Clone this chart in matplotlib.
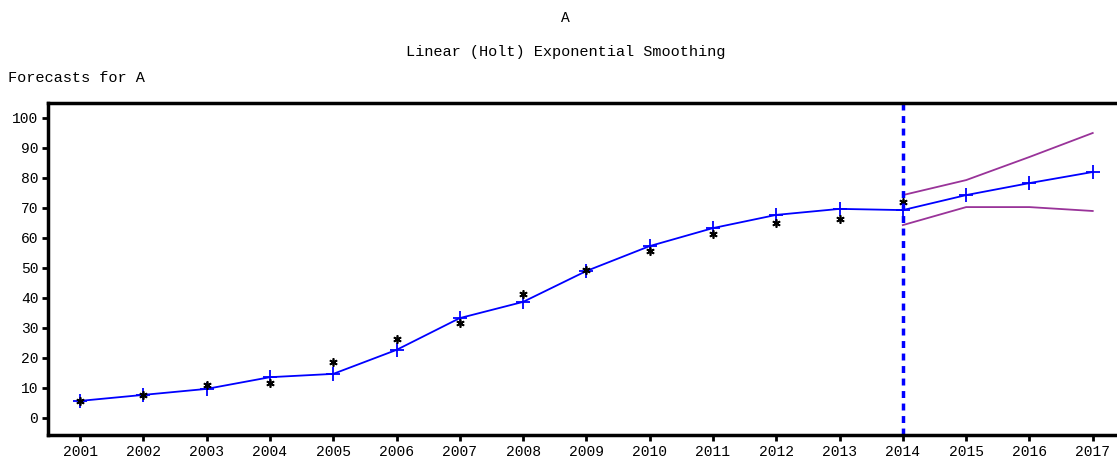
import numpy as np
import matplotlib.pyplot as plt

years = list(range(2001, 2018))
hist_years = list(range(2001, 2015))
actual = [5.7, 7.7, 11.0, 11.7, 18.7, 26.3, 31.7, 41.3, 49.3, 55.7, 61.3, 65.0, 66.3, 72.0]
fitted = [5.7, 7.7, 9.7, 13.6, 14.7, 22.7, 33.3, 38.7, 49.0, 57.3, 63.3, 67.7, 69.7, 69.3, 74.3, 78.3, 82.0]
band_years = [2014, 2015, 2016, 2017]
upper = [74.3, 79.3, 87.0, 95.0]
lower = [64.3, 70.3, 70.3, 69.0]
y_ticks = [0, 10, 20, 30, 40, 50, 60, 70, 80, 90, 100]

plt.rcParams['font.family'] = ['Liberation Mono', 'DejaVu Sans Mono']

fig = plt.figure(figsize=(11.17, 4.61), dpi=100)
ax = fig.add_axes([0.043, 0.0564, 0.967, 0.7202])

ax.plot(band_years, upper, color="#993399", lw=1.3)
ax.plot(band_years, lower, color="#993399", lw=1.3)
ax.plot(years, fitted, color="blue", lw=1.3, marker="+", ms=10, mew=1.3)
ax.plot(hist_years, actual, ls="none", marker=(6, 2, 0), ms=6, mew=1.2, color="black")
ax.axvline(2014, color="blue", lw=2.5, ls=(0, (2, 1.6)))

ax.set_xlim(2000.494, 2017.56)
ax.set_ylim(-5.67, 105)
ax.set_xticks(years)
ax.set_xticklabels([str(y) for y in years])
ax.set_yticks(y_ticks)
ax.tick_params(direction="out", length=4, width=2, labelsize=10.5, pad=3)

for s in ["left", "top", "bottom"]:
    ax.spines[s].set_linewidth(2.5)
ax.spines["right"].set_visible(False)

fig.text(0.506, 0.96, "A", ha="center", va="center", fontsize=10.5)
fig.text(0.506, 0.887, "Linear (Holt) Exponential Smoothing", ha="center", va="center", fontsize=11)
fig.text(0.007, 0.831, "Forecasts for A", ha="left", va="center", fontsize=11)

fig.savefig("out.png", dpi=100)
